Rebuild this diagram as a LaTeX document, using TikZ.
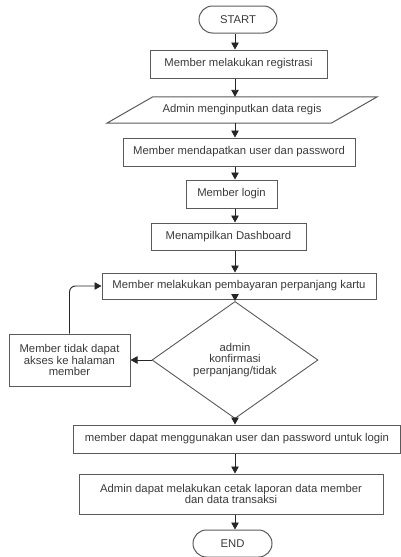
\documentclass[tikz,border=0pt]{standalone}
\usepackage{fontspec}
\setmainfont{Liberation Sans}
\usetikzlibrary{shapes.geometric,shapes.misc,arrows.meta,calc}
\definecolor{edgegray}{HTML}{5A5A5A}
\definecolor{textgray}{HTML}{3A3A3A}
\tikzset{
  every node/.style={font=\fontsize{11.3}{11.5}\selectfont, text=textgray},
  procbox/.style={draw=edgegray, line width=1pt, rectangle, inner sep=0pt, align=center},
  termbox/.style={draw=edgegray, line width=1pt, rounded rectangle, inner sep=0pt},
  iotext/.style={rectangle, inner sep=0pt},
  iobox/.style={draw=edgegray, line width=1pt, line join=miter},
  decbox/.style={draw=edgegray, line width=0.9pt, diamond, inner sep=0pt, align=center},
  flow/.style={draw=black!85, line width=0.9pt, -{Triangle[length=7pt,width=7.5pt]}},
}
\begin{document}
\begin{tikzpicture}[x=1pt,y=-1pt]
  \useasboundingbox (0,0) rectangle (401,557);
  % terminators
  \node[termbox, minimum width=78pt, minimum height=27pt] (start) at (238,19.5) {START};
  \node[termbox, minimum width=79pt, minimum height=27pt] (stop) at (232.5,543.5) {END};
  % process steps
  \node[procbox, minimum width=177pt, minimum height=28pt] (reg) at (238.5,64) {Member melakukan registrasi};
  % input/output step: a slanted parallelogram around a plain text node
  \node[iotext, minimum width=224pt, minimum height=26pt] (input) at (242,110) {Admin menginputkan data regis};
  \draw[iobox] ($(input.south west)+(-23,0)$) -- ($(input.south east)+(-23,0)$)
    -- ($(input.north east)+(23,0)$) -- ($(input.north west)+(23,0)$) -- cycle;
  \node[procbox, minimum width=232pt, minimum height=28pt] (akun) at (239,152) {Member mendapatkan user dan password};
  \node[procbox, minimum width=91pt, minimum height=28pt] (login) at (231.5,194) {Member login};
  \node[procbox, minimum width=155pt, minimum height=27pt] (dash) at (228.5,236.5) {Menampilkan Dashboard};
  \node[procbox, minimum width=274pt, minimum height=26pt] (bayar) at (239,286) {Member melakukan pembayaran perpanjang kartu};
  \node[decbox, minimum width=166pt, minimum height=78pt] (konf) at (235,360) {admin\\konfirmasi\\perpanjang/tidak};
  \node[procbox, minimum width=121pt, minimum height=52pt] (tolak) at (69.5,360) {Member tidak dapat\\akses ke halaman\\member};
  \node[procbox, minimum width=327pt, minimum height=28pt] (pakai) at (237,439) {member dapat menggunakan user dan password untuk login};
  \node[procbox, minimum width=304pt, minimum height=40pt] (cetak) at (231,494) {Admin dapat melakukan cetak laporan data member\\dan data transaksi};
  % main spine of the flow
  \coordinate (spine) at (235,0);
  \foreach \a/\b in {start/reg, reg/input, input/akun, akun/login, login/dash, dash/bayar, bayar/konf, konf/pakai, pakai/cetak, cetak/stop}
    \draw[flow] (\a.south -| spine) -- (\b.north -| spine);
  % rejection branch and loop back
  \draw[flow] (konf.west) -- (tolak.east);
  \draw[flow, rounded corners=6pt] (tolak.north) |- (bayar.west);
\end{tikzpicture}
\end{document}
